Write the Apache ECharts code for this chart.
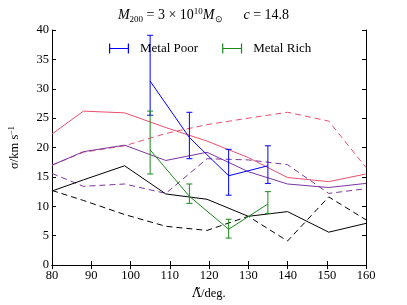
<!DOCTYPE html>
<html>
<head>
<meta charset="utf-8">
<script src="https://cdn.jsdelivr.net/npm/echarts@6/dist/echarts.min.js"></script>
<style>html,body{margin:0;padding:0;background:#fff}#c{width:407px;height:305px}</style>
</head>
<body>
<div id="c"></div>
<script>
// ---- data ----
var xs = [80, 88, 98.5, 109, 119.5, 130, 140, 150.5, 160];
var pinkSolid    = [22.3, 26.2, 25.9, 23.4, 21.1, 18.3, 14.9, 14.2, 15.5];
var pinkDashed   = [17.0, 19.2, 20.3, 22.4, 23.9, 25.0, 26.0, 24.5, 16.6];
var purpleSolid  = [17.0, 19.3, 20.4, 17.8, 19.2, 15.9, 13.8, 13.2, 13.9];
var purpleDashed = [15.6, 13.4, 13.8, 12.2, 18.1, 17.9, 17.1, 12.2, 13.0];
var blackSolid   = [12.6, 14.5, 16.9, 12.1, 11.2, 8.3, 9.1, 5.6, 7.1];
var blackDashed  = [12.7, 11.0, 8.6, 6.6, 5.9, 8.3, 4.1, 11.6, 7.7];

var errX = [105, 115, 125, 135];
var poorY    = [31.3, 21.7, 15.2, 16.9];
var poorLow  = [25.5, 18.1, 11.9, 13.9];
var poorHigh = [39.1, 26.0, 19.7, 20.3];
var richY    = [19.6, 11.7, 6.1, 10.4];
var richLow  = [15.5, 10.5, 4.6, 8.8];
var richHigh = [26.2, 13.8, 7.8, 12.5];

var xTicks = [80, 90, 100, 110, 120, 130, 140, 150, 160];
var yTicks = [0, 5, 10, 15, 20, 25, 30, 35, 40];

var FONT = 'Liberation Serif';
var PINK = '#e8506f', PURPLE = '#7b35a0', BLUE = '#0000ff', GREEN = '#1a8a1a';

function pairs(x, y) { return x.map(function (v, i) { return [v, y[i]]; }); }
function triples(x, lo, hi) { return x.map(function (v, i) { return [v, lo[i], hi[i]]; }); }

function errRender(color) {
  return function (params, api) {
    var x = api.value(0);
    var p1 = api.coord([x, api.value(1)]);
    var p2 = api.coord([x, api.value(2)]);
    var h = 3;
    var st = { stroke: color, lineWidth: 1 };
    return {
      type: 'group',
      children: [
        { type: 'line', shape: { x1: p1[0], y1: p1[1], x2: p2[0], y2: p2[1] }, style: st },
        { type: 'line', shape: { x1: p1[0] - h, y1: p1[1], x2: p1[0] + h, y2: p1[1] }, style: st },
        { type: 'line', shape: { x1: p2[0] - h, y1: p2[1], x2: p2[0] + h, y2: p2[1] }, style: st }
      ]
    };
  };
}

function lineSeries(name, data, color, dashed) {
  return {
    name: name, type: 'line', data: pairs(xs, data), symbol: 'none',
    lineStyle: { color: color, width: 1, type: dashed ? [6, 4] : 'solid' },
    itemStyle: { color: color }, z: 2, animation: false
  };
}

var errIcon = 'path://M0,0h1.2v10h-1.2z M0,4.4h20v1.2h-20z M18.8,0h1.2v10h-1.2z';

var axisCommon = {
  axisLine: { show: true, lineStyle: { color: '#000', width: 1 } },
  axisTick: { show: true, inside: true, length: 4, lineStyle: { color: '#000' } },
  splitLine: { show: false }
};

var chart = echarts.init(document.getElementById('c'), null, { renderer: 'canvas' });
chart.setOption({
  animation: false,
  backgroundColor: '#fff',
  title: {
    left: 'center', top: 2,
    text: '{i|M}{sub|200}{n| = 3 × 10}{sup|10}{i|M}{sub|⊙}{n|      }{i|c}{n| = 14.8}',
    textStyle: {
      fontFamily: FONT, fontSize: 14, color: '#000', fontWeight: 'normal',
      rich: {
        i: { fontFamily: FONT, fontSize: 14, fontStyle: 'italic', color: '#000' },
        n: { fontFamily: FONT, fontSize: 14, color: '#000' },
        sub: { fontFamily: FONT, fontSize: 9, color: '#000', verticalAlign: 'bottom', padding: [8, 0, 0, 0] },
        sup: { fontFamily: FONT, fontSize: 9, color: '#000', verticalAlign: 'top', padding: [0, 0, 6, 0] }
      }
    }
  },
  legend: {
    left: 104, top: 37, itemGap: 24, itemWidth: 20, itemHeight: 10,
    data: [
      { name: 'Metal Poor', icon: errIcon },
      { name: 'Metal Rich', icon: errIcon }
    ],
    textStyle: { fontFamily: FONT, fontSize: 13, color: '#000', padding: [0, 0, 0, 6] }
  },
  grid: { left: 51, right: 41, top: 30, bottom: 31 },
  xAxis: [
    Object.assign({}, axisCommon, {
      type: 'value', min: 80, max: 160, interval: 10, position: 'bottom',
      axisLabel: { fontFamily: FONT, fontSize: 12.5, color: '#000', margin: 4,
        formatter: function (v) { return xTicks.indexOf(v) >= 0 ? String(v) : ''; } },
      name: '{L|Λ̃}{n|/deg.}', nameLocation: 'middle', nameGap: 21,
      nameTextStyle: { fontFamily: FONT, fontSize: 12.5, color: '#000',
        rich: {
          L: { fontFamily: 'DejaVu Serif', fontSize: 12, color: '#000' },
          n: { fontFamily: FONT, fontSize: 12.5, color: '#000' }
        } }
    }),
    Object.assign({}, axisCommon, {
      type: 'value', min: 80, max: 160, interval: 10, position: 'top',
      axisLabel: { show: false }
    })
  ],
  yAxis: [
    Object.assign({}, axisCommon, {
      type: 'value', min: 0, max: 40, interval: 5, position: 'left',
      axisLabel: { fontFamily: FONT, fontSize: 12.5, color: '#000', margin: 3,
        formatter: function (v) { return yTicks.indexOf(v) >= 0 ? String(v) : ''; } },
      name: 'σ/km s{sup|−1}', nameLocation: 'middle', nameGap: 31,
      nameTextStyle: { fontFamily: FONT, fontSize: 12.5, color: '#000',
        rich: { sup: { fontFamily: FONT, fontSize: 8, color: '#000', verticalAlign: 'top', padding: [0, 0, 5, 0] } } }
    }),
    Object.assign({}, axisCommon, {
      type: 'value', min: 0, max: 40, interval: 5, position: 'right',
      axisLabel: { show: false }
    })
  ],
  series: [
    lineSeries('pinkSolid', pinkSolid, PINK, false),
    lineSeries('pinkDashed', pinkDashed, PINK, true),
    lineSeries('purpleSolid', purpleSolid, PURPLE, false),
    lineSeries('purpleDashed', purpleDashed, PURPLE, true),
    lineSeries('blackSolid', blackSolid, '#000', false),
    lineSeries('blackDashed', blackDashed, '#000', true),
    {
      name: 'Metal Poor', type: 'custom', renderItem: errRender(BLUE),
      data: triples(errX, poorLow, poorHigh), itemStyle: { color: BLUE }, z: 3,
      encode: { x: 0, y: [1, 2] }, animation: false
    },
    {
      name: 'poorLine', type: 'line', data: pairs(errX, poorY), symbol: 'none',
      lineStyle: { color: BLUE, width: 1 }, itemStyle: { color: BLUE }, z: 3, animation: false
    },
    {
      name: 'Metal Rich', type: 'custom', renderItem: errRender(GREEN),
      data: triples(errX, richLow, richHigh), itemStyle: { color: GREEN }, z: 4,
      encode: { x: 0, y: [1, 2] }, animation: false
    },
    {
      name: 'richLine', type: 'line', data: pairs(errX, richY), symbol: 'none',
      lineStyle: { color: GREEN, width: 1 }, itemStyle: { color: GREEN }, z: 4, animation: false
    }
  ]
});
</script>
</body>
</html>
